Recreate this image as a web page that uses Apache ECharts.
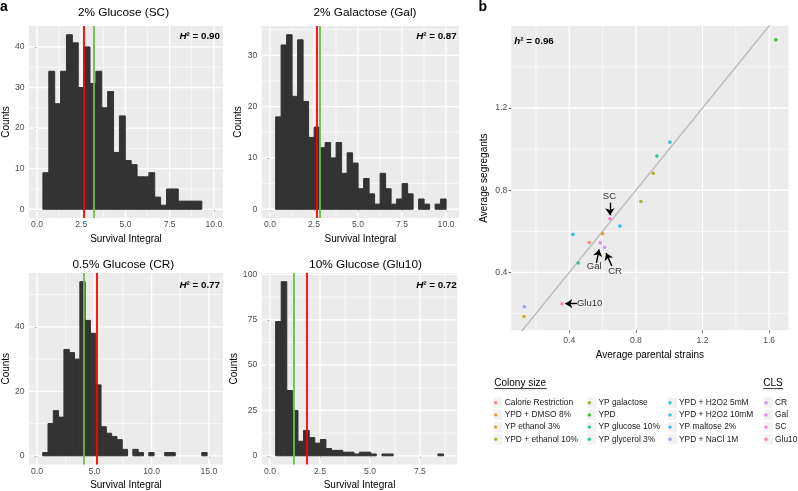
<!DOCTYPE html>
<html><head><meta charset="utf-8">
<script src="https://cdn.jsdelivr.net/npm/echarts@6/dist/echarts.min.js"></script>
<style>html,body{margin:0;padding:0;background:#fff}#c{width:798px;height:491px}</style>
</head><body><div id="c"></div>
<script>
// ================= DATA =================
const histTitles = ['2% Glucose (SC)', '2% Galactose (Gal)', '0.5% Glucose (CR)', '10% Glucose (Glu10)'];
const histH2 = ['0.90', '0.87', '0.77', '0.72'];
const scCounts    = [9,34,26,34,43,41,30,40,31,34,25,29,14,23,12,11,8,8,9,3,1,5,5,2,2,2,2];
const galCounts   = [18,32,34,22,33,21,14,16,12,13,10,13,7,11,9,4,6,3,1,7,4,1,2,5,3,0,2,1,0,1,2];
const crCounts    = [1,10,14,12,33,32,30,54,42,38,22,9,7,6,5,2,0,2,1,0,1,0,0,1,1,0,0,0,0,0,1];
const glu10Counts = [74,96,36,25,8,14,10,7,9,4,3,3,2,2,1,2,2,1,0,1,1,0,0,0,0,0,0,0,0,1];
const histCounts = [scCounts, galCounts, crCounts, glu10Counts];
const binStart = [0.33, 0.32, 0.49, 0.28];
const binWidth = [0.333, 0.3125, 0.463, 0.28];
const redLine   = [2.63, 2.68, 5.23, 1.83];
const greenLine = [3.20, 2.80, 4.09, 1.17];
const histXTicks = [[0,2.5,5,7.5,10],[0,2.5,5,7.5,10],[0,5,10,15],[0,2.5,5,7.5]];
const histXMinor = [[1.25,3.75,6.25,8.75],[1.25,3.75,6.25,8.75],[2.5,7.5,12.5],[1.25,3.75,6.25,8.75]];
const histYTicks = [[0,10,20,30,40],[0,10,20,30],[0,20,40],[0,25,50,75,100]];
const histYMinor = [[5,15,25,35],[5,15,25,35],[10,30,50],[12.5,37.5,62.5,87.5]];
const histXRange = [[-0.46,10.52],[-0.47,10.74],[-0.71,16.23],[-0.415,9.37]];
const histYRange = [[-2.15,45.15],[-1.7,35.7],[-2.7,56.7],[-4.8,100.8]];

const conditions = ['Calorie Restriction','YPD + DMSO 8%','YP ethanol 3%','YPD + ethanol 10%',
  'YP galactose','YPD','YP glucose 10%','YP glycerol 3%',
  'YPD + H2O2 5mM','YPD + H2O2 10mM','YP maltose 2%','YPD + NaCl 1M',
  'CR','Gal','SC','Glu10'];
const parental  = [0.520,0.600,0.128,0.904,0.830,1.640,0.926,0.454,1.004,0.422,0.704,0.130,0.612,0.586,0.644,0.356];
const segregant = [0.546,0.588,0.186,0.882,0.745,1.532,0.966,0.446,1.034,0.585,0.626,0.233,0.522,0.544,0.661,0.248];
const condColors = ['#F8766D','#E68613','#CD9600','#ABA300','#7CAE00','#0CB702','#00BE67','#00C19A',
  '#00BFC4','#00B8E7','#00A9FF','#8494FF','#C77CFF','#ED68ED','#FF61CC','#FF68A1'];
const legendCols = [conditions.slice(0,4), conditions.slice(4,8), conditions.slice(8,12), conditions.slice(12,16)];
const scatXTicks = [0.4,0.8,1.2,1.6], scatXMinor = [0.2,0.6,1.0,1.4];
const scatYTicks = [0.4,0.8,1.2],     scatYMinor = [0.2,0.6,1.0,1.4];
const scatXRange = [0.052,1.716], scatYRange = [0.119,1.599];
const identityLine = [0, 2];
const annoLabels = ['SC','Gal','CR','Glu10'];
const annoTextX = [0.641,0.550,0.675,0.522];
const annoTextY = [0.772,0.429,0.406,0.248];
const arrowFrom = [[0.644,0.740],[0.563,0.447],[0.655,0.432],[0.446,0.248]];
const arrowTo   = [[0.644,0.678],[0.579,0.512],[0.621,0.495],[0.376,0.248]];

// ================= LAYOUT =================
const FONT = '"Liberation Sans", Arial, Helvetica, sans-serif';
const histGrids = [
  {left:25, top:26, width:198, height:192},
  {left:261.7, top:26, width:197.3, height:192},
  {left:25, top:273, width:198, height:191.5},
  {left:261.7, top:273, width:195.6, height:191.5}];
const scatGrid = {left:511.3, top:26, width:277.2, height:304.2};

const grids = histGrids.concat([scatGrid]).map(g => Object.assign({show:true, backgroundColor:'#EBEBEB', borderWidth:0, containLabel:false}, g));

function axisCfg(idx, range, ticks, dec, name, nameGap, margin) {
  return {type:'value', gridIndex:idx, min:range[0], max:range[1], name, nameLocation:'middle', nameGap,
    nameTextStyle:{fontSize:10, color:'#000', fontFamily:FONT},
    axisLine:{show:false}, splitLine:{show:false},
    axisTick:{show:true, customValues:ticks, length:2.5, lineStyle:{color:'#333', width:0.8}},
    axisLabel:{show:true, customValues:ticks, formatter:v => Number(v).toFixed(dec), fontSize:8.6, color:'#4D4D4D', margin, fontFamily:FONT}};
}

const xAxes = [], yAxes = [], series = [];

function gridLineSeries(idx, xMaj, xMin, yMaj, yMin) {
  const ref = [xMaj[0], yMaj[0]];
  const mk = (vertical, data) => ({
    type:'custom', xAxisIndex:idx, yAxisIndex:idx, silent:true, z:1, animation:false, data,
    renderItem(params, api) {
      const cs = params.coordSys;
      const v = api.value(0), major = api.value(1) === 1;
      const style = {stroke:'#FFFFFF', lineWidth: major ? 1.3 : 0.65};
      if (vertical) {
        const x = api.coord([v, ref[1]])[0];
        return {type:'line', shape:{x1:x, y1:cs.y, x2:x, y2:cs.y + cs.height}, style};
      }
      const y = api.coord([ref[0], v])[1];
      return {type:'line', shape:{x1:cs.x, y1:y, x2:cs.x + cs.width, y2:y}, style};
    }
  });
  return [mk(true, xMin.map(v => [v,0]).concat(xMaj.map(v => [v,1]))),
          mk(false, yMin.map(v => [v,0]).concat(yMaj.map(v => [v,1])))];
}

for (let i = 0; i < 4; i++) {
  const labGap = i < 2 ? 16 : 15.5;
  xAxes.push(axisCfg(i, histXRange[i], histXTicks[i], 1, 'Survival Integral', labGap, 2.5));
  yAxes.push(axisCfg(i, histYRange[i], histYTicks[i], 0, 'Counts', 15.5, 4.5));
  series.push(...gridLineSeries(i, histXTicks[i], histXMinor[i], histYTicks[i], histYMinor[i]));
  const data = histCounts[i].map((c, k) => [binStart[i] + k * binWidth[i], binStart[i] + (k + 1) * binWidth[i], c]);
  series.push({
    type:'custom', xAxisIndex:i, yAxisIndex:i, z:3, silent:true, animation:false, data,
    encode:{x:[0,1], y:2},
    renderItem(params, api) {
      const c = api.value(2);
      if (!c) return null;
      const p0 = api.coord([api.value(0), 0]);
      const p1 = api.coord([api.value(1), c]);
      return {type:'rect', shape:{x:p0[0], y:p1[1], width:p1[0]-p0[0], height:p0[1]-p1[1]},
        style:{fill:'#333333', stroke:'#333333', lineWidth:1}};
    },
    markLine:{silent:true, animation:false, symbol:['none','none'], label:{show:false},
      data:[{xAxis:greenLine[i], lineStyle:{color:'#6CBE45', width:1.8, type:'solid'}},
            {xAxis:redLine[i], lineStyle:{color:'#FF0000', width:1.8, type:'solid'}}]}
  });
}

// scatter panel
xAxes.push(axisCfg(4, scatXRange, scatXTicks, 1, 'Average parental strains', 20, 5.5));
yAxes.push(axisCfg(4, scatYRange, scatYTicks, 1, 'Average segregants', 22, 4));
series.push(...gridLineSeries(4, scatXTicks, scatXMinor, scatYTicks, scatYMinor));
series.push({type:'line', xAxisIndex:4, yAxisIndex:4, z:3, silent:true, animation:false, showSymbol:false, clip:true,
  data: identityLine.map(v => [v, v]), lineStyle:{color:'#BDBDBD', width:1.5}});
conditions.forEach((n, k) => {
  series.push({type:'scatter', name:n, xAxisIndex:4, yAxisIndex:4, z:5, silent:true, animation:false,
    symbol:'circle', symbolSize:3.6, itemStyle:{color:condColors[k]}, data:[[parental[k], segregant[k]]]});
});
series.push({type:'scatter', xAxisIndex:4, yAxisIndex:4, z:6, silent:true, animation:false,
  symbol:'circle', symbolSize:1, itemStyle:{color:'rgba(0,0,0,0)'},
  label:{show:true, position:'inside', formatter:'{b}', fontSize:9.5, color:'#000', fontFamily:FONT},
  data: annoLabels.map((n, i) => ({name:n, value:[annoTextX[i], annoTextY[i]]})),
  markLine:{silent:true, animation:false, symbol:['none','arrow'], symbolSize:7, label:{show:false},
    lineStyle:{color:'#000', width:1.4, type:'solid'},
    data: arrowFrom.map((f, i) => [{coord:f}, {coord:arrowTo[i]}])}
});

// legends
const legendLeft = [494, 587.7, 668.3, 764.3];
const legendKeyX = [498, 591.7, 672.3, 768.3];
const legendRowY0 = 402.7, legendRowStep = 12.2;
const legends = legendCols.map((names, c) => ({
  data: names.map(n => ({name:n, icon:'circle'})), orient:'vertical', left:legendLeft[c], top:legendRowY0 - legendRowStep/2,
  padding:0, itemGap:0, itemWidth:8, itemHeight:3.4, selectedMode:false, z:5,
  textStyle:{fontSize:8.4, color:'#1A1A1A', fontFamily:FONT, lineHeight:legendRowStep}
}));

// graphic annotations
const T = (x, y, text, size, opts) => ({type:'text', x, y, silent:true, z:10,
  style:Object.assign({text, fontSize:size, fontFamily:FONT, fill:'#000',
    align:'center', textAlign:'center', verticalAlign:'middle', textVerticalAlign:'middle'}, opts || {})});
const graphic = [];
graphic.push(T(0, 7.5, 'a', 14, {fontWeight:'bold', align:'left', textAlign:'left'}));
graphic.push(T(478.5, 7, 'b', 14, {fontWeight:'bold', align:'left', textAlign:'left'}));
const titlePos = [[123.5,13],[365,13],[123.3,265],[365.5,265]];
const h2Pos = [[220,36.7],[456.7,36.5],[220,285],[456.7,285]];
histTitles.forEach((t, i) => {
  graphic.push(T(titlePos[i][0], titlePos[i][1], t, 11.8));
  graphic.push(T(h2Pos[i][0], h2Pos[i][1], '{i|H}{n|² = ' + histH2[i] + '}', 9.8,
    {align:'right', textAlign:'right', rich:{i:{fontStyle:'italic', fontWeight:'bold', fontSize:9.8, fontFamily:FONT},
      n:{fontWeight:'bold', fontSize:9.8, fontFamily:FONT}}}));
});
graphic.push(T(514.3, 41.7, '{i|h}{n|² = 0.96}', 9.8, {align:'left', textAlign:'left',
  rich:{i:{fontStyle:'italic', fontWeight:'bold', fontSize:9.8, fontFamily:FONT}, n:{fontWeight:'bold', fontSize:9.8, fontFamily:FONT}}}));
graphic.push(T(494.3, 383.3, 'Colony size', 10, {align:'left', textAlign:'left'}));
graphic.push({type:'line', silent:true, z:10, shape:{x1:494.3, y1:388.6, x2:546.7, y2:388.6}, style:{stroke:'#000', lineWidth:0.8}});
graphic.push(T(763.3, 383.3, 'CLS', 10, {align:'left', textAlign:'left'}));
graphic.push({type:'line', silent:true, z:10, shape:{x1:763.3, y1:388.6, x2:783.3, y2:388.6}, style:{stroke:'#000', lineWidth:0.8}});
legendKeyX.forEach(kx => {
  for (let r = 0; r < 4; r++) {
    graphic.push({type:'rect', silent:true, z:0, shape:{x:kx - 4.5, y:legendRowY0 + r*legendRowStep - 5.2, width:9, height:10.4},
      style:{fill:'#F2F2F2'}});
  }
});

const chart = echarts.init(document.getElementById('c'), null, {renderer:'canvas', width:798, height:491});
chart.setOption({
  animation:false, backgroundColor:'#FFFFFF',
  textStyle:{fontFamily:FONT},
  grid:grids, xAxis:xAxes, yAxis:yAxes, series, legend:legends, graphic
});
</script></body></html>
